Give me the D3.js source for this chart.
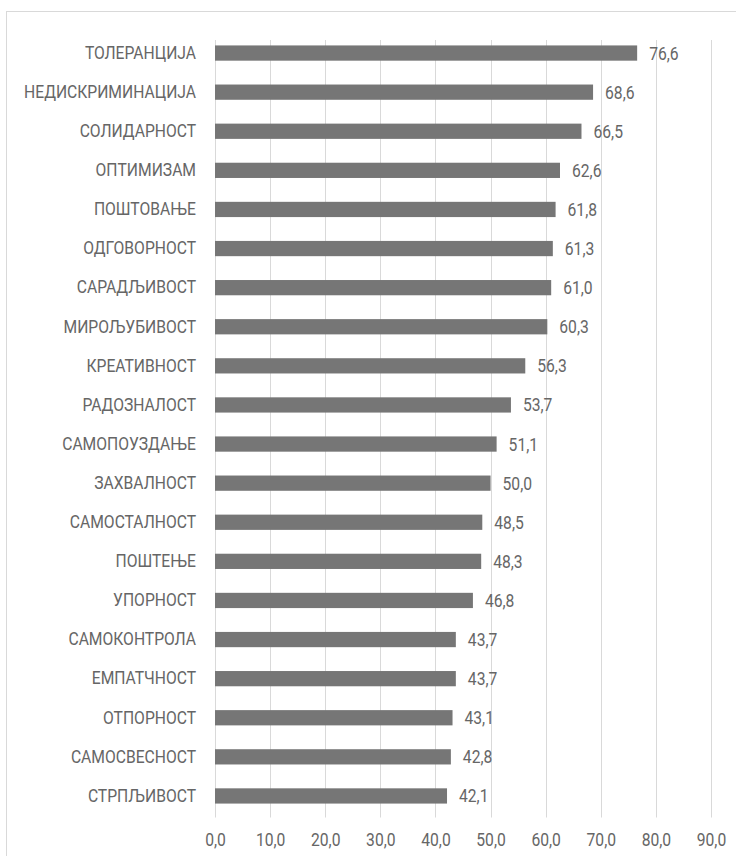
<!DOCTYPE html>
<html>
<head>
<meta charset="utf-8">
<script src="https://cdn.jsdelivr.net/npm/d3@7"></script>
<style>
  html, body { margin: 0; padding: 0; background: #fff; }
  svg { display: block; }
</style>
</head>
<body>
<svg id="chart" width="736" height="856"></svg>
<script>
// Values shown next to each bar, top to bottom
const categories = [
  "ТОЛЕРАНЦИЈА", "НЕДИСКРИМИНАЦИЈА", "СОЛИДАРНОСТ", "ОПТИМИЗАМ", "ПОШТОВАЊЕ",
  "ОДГОВОРНОСТ", "САРАДЉИВОСТ", "МИРОЉУБИВОСТ", "КРЕАТИВНОСТ", "РАДОЗНАЛОСТ",
  "САМОПОУЗДАЊЕ", "ЗАХВАЛНОСТ", "САМОСТАЛНОСТ", "ПОШТЕЊЕ", "УПОРНОСТ",
  "САМОКОНТРОЛА", "ЕМПАТЧНОСТ", "ОТПОРНОСТ", "САМОСВЕСНОСТ", "СТРПЉИВОСТ"
];
const values = [
  76.6, 68.6, 66.5, 62.6, 61.8,
  61.3, 61.0, 60.3, 56.3, 53.7,
  51.1, 50.0, 48.5, 48.3, 46.8,
  43.7, 43.7, 43.1, 42.8, 42.1
];
const tickValues = [0, 10, 20, 30, 40, 50, 60, 70, 80, 90];

const fmt = v => v.toFixed(1).replace(".", ",");
const data = categories.map((c, i) => ({ name: c, value: values[i] }));

const svg = d3.select("#chart");
const font = "Roboto, 'Open Sans', sans-serif";
const fontSize = 18;
const squeeze = 0.87;          // horizontal condensing of all labels
const textColor = "#666666";

// Outer chart frame
svg.append("rect")
  .attr("x", 6.5).attr("y", 11.5)
  .attr("width", 760).attr("height", 880)
  .attr("fill", "#fff")
  .attr("stroke", "#d9d9d9").attr("stroke-width", 1);

const plot = { left: 215, right: 711, top: 33.5, bottom: 815.5 };

const x = d3.scaleLinear().domain([0, 90]).range([plot.left, plot.right]);
const y = d3.scaleBand().domain(categories).range([plot.top, plot.bottom]).paddingInner(0.61).paddingOuter(0.305);

// Vertical gridlines
svg.append("g")
  .selectAll("line")
  .data(tickValues)
  .join("line")
  .attr("x1", d => Math.round(x(d)) + 0.5)
  .attr("x2", d => Math.round(x(d)) + 0.5)
  .attr("y1", 40).attr("y2", plot.bottom + 2)
  .attr("stroke", "#d9d9d9").attr("stroke-width", 1);

// Bars
svg.append("g")
  .selectAll("rect")
  .data(data)
  .join("rect")
  .attr("x", x(0))
  .attr("y", d => y(d.name))
  .attr("width", d => x(d.value) - x(0))
  .attr("height", y.bandwidth())
  .attr("fill", "#767676");

function styleText(sel) {
  sel.attr("font-family", font)
    .attr("font-size", fontSize)
    .attr("font-weight", 400)
    .attr("fill", textColor)
    .attr("transform", `scale(${squeeze},1)`);
}

// Value labels
svg.append("g")
  .selectAll("text")
  .data(data)
  .join("text")
  .attr("x", d => (x(d.value) + 12) / squeeze)
  .attr("y", d => y(d.name) + y.bandwidth() / 2)
  .attr("dy", "0.36em")
  .call(styleText)
  .text(d => fmt(d.value));

// Category axis (labels only)
const yAxis = d3.axisLeft(y).tickSize(0).tickPadding(19);
const gy = svg.append("g").attr("transform", `translate(${plot.left},0)`).call(yAxis);
gy.select(".domain").remove();
gy.selectAll("text").call(styleText).attr("x", -19 / squeeze);

// Value axis (labels only)
const xAxis = d3.axisBottom(x).tickValues(tickValues).tickSize(0).tickPadding(18).tickFormat(fmt);
const gx = svg.append("g").attr("transform", `translate(0,${plot.bottom})`).call(xAxis);
gx.select(".domain").remove();
gx.selectAll("text").call(styleText);
</script>
</body>
</html>
